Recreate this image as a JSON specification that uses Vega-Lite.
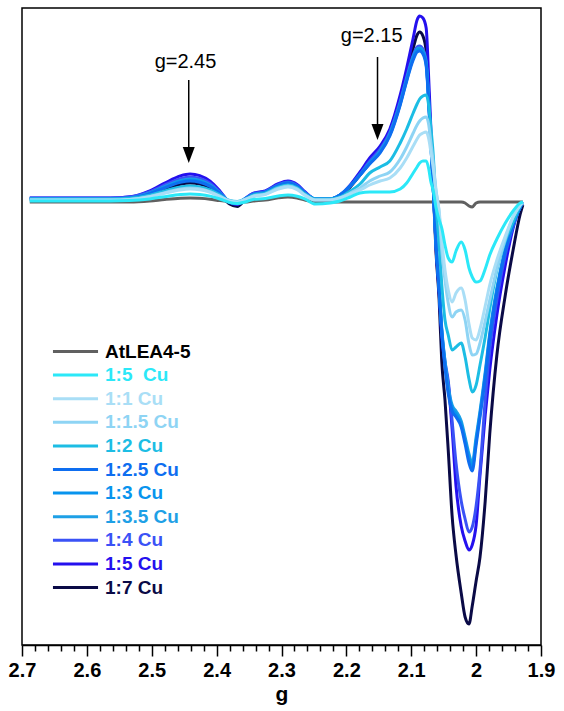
{
  "$schema": "https://vega.github.io/schema/vega-lite/v6.json",
  "autosize": {"type": "none"},
  "padding": {"left": 22, "top": 8, "right": 23, "bottom": 66},
  "width": 519,
  "height": 637,
  "background": "white",
  "config": {
    "view": {"stroke": "black", "strokeWidth": 1.5},
    "font": "Liberation Sans"
  },
  "resolve": {"axis": {"x": "independent"}},
  "layer": [
    {
      "data": {
        "values": [
          {"g": 2.688, "A": -1, "c5": 0, "r1": 1, "r15": 1, "r2": 2, "r25": 2, "r3": 2, "r35": 2, "r4": 3, "r5": 3, "r7": 2},
          {"g": 2.626, "A": -1, "c5": 0, "r1": 1, "r15": 1, "r2": 2, "r25": 2, "r3": 2, "r35": 2, "r4": 3, "r5": 3, "r7": 2},
          {"g": 2.564, "A": -1, "c5": 0, "r1": 1, "r15": 1, "r2": 2, "r25": 2, "r3": 2, "r35": 2, "r4": 3, "r5": 3, "r7": 2},
          {"g": 2.534, "A": -1, "c5": 0.4, "r1": 1.6, "r15": 1.6, "r2": 2.7, "r25": 2.9, "r3": 3, "r35": 3, "r4": 4, "r5": 4.2, "r7": 2.8},
          {"g": 2.503, "A": 0, "c5": 2.1, "r1": 4.3, "r15": 4.6, "r2": 5.9, "r25": 7.4, "r3": 7.7, "r35": 8, "r4": 9.3, "r5": 10.2, "r7": 6.8},
          {"g": 2.48, "A": 1.5, "c5": 4.3, "r1": 7.8, "r15": 8.4, "r2": 10.1, "r25": 13.2, "r3": 13.8, "r35": 14.4, "r4": 16, "r5": 17.9, "r7": 11.9},
          {"g": 2.456, "A": 2.7, "c5": 6.4, "r1": 11.1, "r15": 12, "r2": 14, "r25": 18.6, "r3": 19.5, "r35": 20.4, "r4": 22.3, "r5": 25.1, "r7": 16.7},
          {"g": 2.441, "A": 3, "c5": 7, "r1": 12, "r15": 13, "r2": 15, "r25": 20, "r3": 21, "r35": 22, "r4": 24, "r5": 27, "r7": 18},
          {"g": 2.426, "A": 2.7, "c5": 6.5, "r1": 11.2, "r15": 12.2, "r2": 14.1, "r25": 18.7, "r3": 19.7, "r35": 20.6, "r4": 22.5, "r5": 25.3, "r7": 16.9},
          {"g": 2.41, "A": 1.8, "c5": 4.9, "r1": 8.7, "r15": 9.4, "r2": 11.1, "r25": 14.6, "r3": 15.3, "r35": 16, "r4": 17.7, "r5": 19.8, "r7": 13.2},
          {"g": 2.395, "A": 0.4, "c5": 2, "r1": 4.5, "r15": 4.8, "r2": 6, "r25": 7.5, "r3": 7.8, "r35": 8, "r4": 9, "r5": 10, "r7": 6.5},
          {"g": 2.38, "A": -0.5, "c5": -1.5, "r1": 0, "r15": 0, "r2": 0.5, "r25": -1, "r3": -1, "r35": -1, "r4": -1, "r5": -1.5, "r7": -3},
          {"g": 2.368, "A": -1, "c5": -2.5, "r1": -1, "r15": -1, "r2": -0.5, "r25": -2.5, "r3": -2.5, "r35": -2.5, "r4": -3, "r5": -3.5, "r7": -5.5},
          {"g": 2.356, "A": -1, "c5": -1, "r1": 1.5, "r15": 1.5, "r2": 2, "r25": 2, "r3": 2, "r35": 2, "r4": 2.5, "r5": 2.5, "r7": 1},
          {"g": 2.344, "A": 0, "c5": 1.6, "r1": 4.5, "r15": 4.8, "r2": 5.8, "r25": 6.3, "r3": 6.3, "r35": 6.3, "r4": 7.3, "r5": 7.6, "r7": 6},
          {"g": 2.325, "A": 1, "c5": 2.5, "r1": 6.5, "r15": 6.9, "r2": 7.9, "r25": 8.7, "r3": 8.7, "r35": 8.7, "r4": 9.7, "r5": 10.1, "r7": 8.3},
          {"g": 2.305, "A": 3.2, "c5": 5, "r1": 11.9, "r15": 12.8, "r2": 13.8, "r25": 15.4, "r3": 15.4, "r35": 15.4, "r4": 16.4, "r5": 17.3, "r7": 14.6},
          {"g": 2.29, "A": 4, "c5": 6, "r1": 14, "r15": 15, "r2": 16, "r25": 18, "r3": 18, "r35": 18, "r4": 19, "r5": 20, "r7": 17},
          {"g": 2.276, "A": 3, "c5": 4.8, "r1": 11.4, "r15": 12.2, "r2": 13.2, "r25": 14.8, "r3": 14.8, "r35": 14.8, "r4": 15.8, "r5": 16.6, "r7": 14},
          {"g": 2.264, "A": 0.9, "c5": 2.2, "r1": 5.8, "r15": 6.2, "r2": 7.2, "r25": 7.9, "r3": 7.9, "r35": 7.9, "r4": 8.9, "r5": 9.3, "r7": 7.6},
          {"g": 2.248, "A": -1, "c5": -3, "r1": 1, "r15": 1, "r2": 2, "r25": 2, "r3": 2, "r35": 2, "r4": 2, "r5": 2, "r7": 1},
          {"g": 2.225, "A": -1, "c5": -2, "r1": 1, "r15": 1, "r2": 2, "r25": 2, "r3": 2, "r35": 2, "r4": 2, "r5": 2, "r7": 1},
          {"g": 2.21, "A": -1, "c5": 0, "r1": 3, "r15": 3, "r2": 4, "r25": 6, "r3": 6, "r35": 6, "r4": 6, "r5": 6, "r7": 5},
          {"g": 2.194, "A": -1, "c5": 4, "r1": 7, "r15": 8, "r2": 10, "r25": 15, "r3": 15, "r35": 15, "r4": 15, "r5": 16, "r7": 14},
          {"g": 2.179, "A": -1, "c5": 8, "r1": 11, "r15": 13, "r2": 17, "r25": 26, "r3": 26, "r35": 26, "r4": 27, "r5": 29, "r7": 26},
          {"g": 2.164, "A": -1, "c5": 9, "r1": 16, "r15": 20, "r2": 28, "r25": 37, "r3": 38, "r35": 38, "r4": 40, "r5": 43, "r7": 38},
          {"g": 2.148, "A": -1, "c5": 9, "r1": 20, "r15": 25, "r2": 34, "r25": 48, "r3": 49, "r35": 50, "r4": 52, "r5": 55, "r7": 50},
          {"g": 2.133, "A": -1, "c5": 9, "r1": 23, "r15": 29, "r2": 40, "r25": 65, "r3": 66, "r35": 67, "r4": 69, "r5": 72, "r7": 67},
          {"g": 2.117, "A": -1, "c5": 12, "r1": 33, "r15": 42, "r2": 58, "r25": 96, "r3": 97, "r35": 98, "r4": 100, "r5": 106, "r7": 102},
          {"g": 2.107, "A": -1, "c5": 18, "r1": 43, "r15": 54, "r2": 72, "r25": 120, "r3": 121, "r35": 122, "r4": 124, "r5": 133, "r7": 128},
          {"g": 2.097, "A": -1, "c5": 28, "r1": 55, "r15": 68, "r2": 88, "r25": 141, "r3": 143, "r35": 144, "r4": 146, "r5": 163, "r7": 153},
          {"g": 2.091, "A": -1, "c5": 34, "r1": 62, "r15": 76, "r2": 97, "r25": 149, "r3": 151, "r35": 152, "r4": 154, "r5": 181, "r7": 166},
          {"g": 2.087, "A": -1, "c5": 38, "r1": 66, "r15": 80, "r2": 102, "r25": 150, "r3": 152, "r35": 153, "r4": 155, "r5": 185, "r7": 169},
          {"g": 2.082, "A": -1, "c5": 40, "r1": 68, "r15": 83, "r2": 105, "r25": 147, "r3": 149, "r35": 150, "r4": 152, "r5": 183, "r7": 165},
          {"g": 2.077, "A": -1, "c5": 40, "r1": 69, "r15": 84, "r2": 106, "r25": 135, "r3": 137, "r35": 138, "r4": 140, "r5": 173, "r7": 150},
          {"g": 2.073, "A": -1, "c5": 32, "r1": 62, "r15": 76, "r2": 95, "r25": 96, "r3": 98, "r35": 99, "r4": 100, "r5": 121, "r7": 105},
          {"g": 2.07, "A": -1, "c5": 20, "r1": 50, "r15": 60, "r2": 75, "r25": 59, "r3": 60, "r35": 61, "r4": 62, "r5": 76, "r7": 65},
          {"g": 2.066, "A": -1, "c5": 10, "r1": 32, "r15": 38, "r2": 45, "r25": 11, "r3": 11, "r35": 11, "r4": 12, "r5": 17, "r7": 12},
          {"g": 2.062, "A": -1, "c5": -6, "r1": 10, "r15": 12, "r2": -2, "r25": -41, "r3": -41, "r35": -41, "r4": -41, "r5": -44, "r7": -49},
          {"g": 2.057, "A": -1, "c5": -19, "r1": -10, "r15": -12, "r2": -44, "r25": -88, "r3": -87, "r35": -86, "r4": -87, "r5": -92, "r7": -99},
          {"g": 2.053, "A": -1, "c5": -27, "r1": -39, "r15": -49, "r2": -83, "r25": -131, "r3": -129, "r35": -127, "r4": -130, "r5": -135, "r7": -160},
          {"g": 2.048, "A": -1, "c5": -44, "r1": -69, "r15": -79, "r2": -119, "r25": -166, "r3": -163, "r35": -160, "r4": -160, "r5": -163, "r7": -199},
          {"g": 2.043, "A": -1, "c5": -57, "r1": -89, "r15": -102, "r2": -134, "r25": -193, "r3": -189, "r35": -186, "r4": -180, "r5": -183, "r7": -249},
          {"g": 2.037, "A": -1, "c5": -61, "r1": -101, "r15": -116, "r2": -149, "r25": -210, "r3": -207, "r35": -204, "r4": -220, "r5": -228, "r7": -315},
          {"g": 2.031, "A": -1, "c5": -50, "r1": -92, "r15": -111, "r2": -146, "r25": -216, "r3": -213, "r35": -210, "r4": -262, "r5": -285, "r7": -354},
          {"g": 2.023, "A": -1, "c5": -41, "r1": -87, "r15": -109, "r2": -142, "r25": -226, "r3": -223, "r35": -220, "r4": -300, "r5": -325, "r7": -392},
          {"g": 2.017, "A": -2, "c5": -49, "r1": -99, "r15": -119, "r2": -156, "r25": -243, "r3": -239, "r35": -236, "r4": -318, "r5": -340, "r7": -416},
          {"g": 2.011, "A": -5, "c5": -67, "r1": -123, "r15": -143, "r2": -178, "r25": -262, "r3": -257, "r35": -253, "r4": -331, "r5": -349, "r7": -423},
          {"g": 2.006, "A": -6, "c5": -76, "r1": -137, "r15": -154, "r2": -191, "r25": -270, "r3": -266, "r35": -262, "r4": -326, "r5": -344, "r7": -405},
          {"g": 2.0, "A": -2, "c5": -81, "r1": -139, "r15": -153, "r2": -184, "r25": -244, "r3": -240, "r35": -236, "r4": -305, "r5": -324, "r7": -380},
          {"g": 1.994, "A": -1, "c5": -80, "r1": -128, "r15": -142, "r2": -164, "r25": -216, "r3": -213, "r35": -210, "r4": -269, "r5": -274, "r7": -356},
          {"g": 1.986, "A": -1, "c5": -68, "r1": -105, "r15": -120, "r2": -136, "r25": -177, "r3": -174, "r35": -171, "r4": -199, "r5": -214, "r7": -300},
          {"g": 1.979, "A": -1, "c5": -54, "r1": -84, "r15": -99, "r2": -108, "r25": -137, "r3": -135, "r35": -132, "r4": -149, "r5": -169, "r7": -233},
          {"g": 1.968, "A": -1, "c5": -38, "r1": -59, "r15": -68, "r2": -69, "r25": -91, "r3": -89, "r35": -87, "r4": -99, "r5": -114, "r7": -154},
          {"g": 1.955, "A": -1, "c5": -22, "r1": -35, "r15": -38, "r2": -40, "r25": -50, "r3": -49, "r35": -48, "r4": -54, "r5": -64, "r7": -94},
          {"g": 1.943, "A": -1, "c5": -10, "r1": -16, "r15": -16, "r2": -21, "r25": -24, "r3": -24, "r35": -23, "r4": -25, "r5": -27, "r7": -49},
          {"g": 1.932, "A": -1, "c5": -2, "r1": -4, "r15": -4, "r2": -5, "r25": -6, "r3": -6, "r35": -6, "r4": -6, "r5": -6, "r7": -13},
          {"g": 1.928, "A": -1, "c5": -1, "r1": -1, "r15": -1, "r2": -1, "r25": -1, "r3": -1, "r35": -1, "r4": -1, "r5": -1, "r7": -4}
        ]
      },
      "transform": [
        {"fold": ["A", "r7", "r5", "r4", "r35", "r3", "r25", "r2", "r15", "r1", "c5"], "as": ["k", "v"]},
        {
          "lookup": "k",
          "from": {
            "data": {
              "values": [
                {"k": "A", "name": "AtLEA4-5"},
                {"k": "c5", "name": "1:5\u00a0 Cu"},
                {"k": "r1", "name": "1:1 Cu"},
                {"k": "r15", "name": "1:1.5 Cu"},
                {"k": "r2", "name": "1:2 Cu"},
                {"k": "r25", "name": "1:2.5 Cu"},
                {"k": "r3", "name": "1:3 Cu"},
                {"k": "r35", "name": "1:3.5 Cu"},
                {"k": "r4", "name": "1:4 Cu"},
                {"k": "r5", "name": "1:5 Cu"},
                {"k": "r7", "name": "1:7 Cu"}
              ]
            },
            "key": "k",
            "fields": ["name"]
          }
        }
      ],
      "mark": {"type": "line", "strokeWidth": 3, "interpolate": "monotone"},
      "encoding": {
        "x": {
          "field": "g",
          "type": "quantitative",
          "scale": {"domain": [1.9, 2.7], "reverse": true, "nice": false, "zero": false},
          "axis": {
            "orient": "bottom",
            "values": [2.7, 2.6, 2.5, 2.4, 2.3, 2.2, 2.1, 2.0, 1.9],
            "format": "~g",
            "tickSize": 11,
            "tickWidth": 1.5,
            "tickColor": "black",
            "domainColor": "black",
            "domainWidth": 1.5,
            "labelFont": "Liberation Sans",
            "labelFontSize": 20,
            "labelFontWeight": "bold",
            "labelColor": "black",
            "labelPadding": 4,
            "labelFlush": false,
            "labelOverlap": false,
            "grid": false,
            "title": "g",
            "titleFont": "Liberation Sans",
            "titleFontSize": 21,
            "titleFontWeight": "bold",
            "titleColor": "black",
            "titlePadding": 3
          }
        },
        "y": {
          "field": "v",
          "type": "quantitative",
          "scale": {"domain": [-444, 193], "nice": false, "zero": false},
          "axis": null
        },
        "color": {
          "field": "name",
          "type": "nominal",
          "scale": {
            "domain": ["AtLEA4-5", "1:5\u00a0 Cu", "1:1 Cu", "1:1.5 Cu", "1:2 Cu", "1:2.5 Cu", "1:3 Cu", "1:3.5 Cu", "1:4 Cu", "1:5 Cu", "1:7 Cu"],
            "range": ["#606060", "#2be8f8", "#a9def6", "#8ed4f4", "#1cbde4", "#0e6ef0", "#0794ee", "#1ea0e6", "#3a52f6", "#2410ee", "#0a0a46"]
          },
          "legend": {
            "orient": "none",
            "legendX": 44,
            "legendY": 334,
            "title": null,
            "padding": 0,
            "symbolType": "M-4,0H4",
            "symbolSize": 127,
            "symbolStrokeWidth": 3,
            "labelFont": "Liberation Sans",
            "labelFontSize": 19,
            "labelFontWeight": "bold",
            "labelOffset": 20,
            "labelLimit": 300,
            "rowPadding": 3.6,
            "encode": {
              "labels": {
                "update": {
                  "fill": [
                    {"test": "datum.value === 'AtLEA4-5'", "value": "black"},
                    {"scale": "color", "field": "value"}
                  ]
                }
              }
            }
          }
        }
      }
    },
    {
      "data": {
        "values": [
          {"g": 2.443, "top": 121, "bot": 50},
          {"g": 2.152, "top": 144, "bot": 74}
        ]
      },
      "mark": {"type": "rule", "strokeWidth": 1.5, "color": "black"},
      "encoding": {
        "x": {
          "field": "g",
          "type": "quantitative",
          "scale": {"domain": [1.9, 2.7], "reverse": true, "nice": false, "zero": false},
          "axis": {
            "orient": "bottom",
            "values": [2.68, 2.66, 2.64, 2.62, 2.58, 2.56, 2.54, 2.52, 2.48, 2.46, 2.44, 2.42, 2.38, 2.36, 2.34, 2.32, 2.28, 2.26, 2.24, 2.22, 2.18, 2.16, 2.14, 2.12, 2.08, 2.06, 2.04, 2.02, 1.98, 1.96, 1.94, 1.92],
            "labels": false,
            "domain": false,
            "grid": false,
            "tickSize": 6,
            "tickWidth": 1.5,
            "tickColor": "black",
            "title": null
          }
        },
        "y": {"field": "top", "type": "quantitative", "scale": {"domain": [-444, 193], "nice": false, "zero": false}, "axis": null},
        "y2": {"field": "bot"}
      }
    },
    {
      "data": {
        "values": [
          {"g": 2.443, "head": 46},
          {"g": 2.152, "head": 69}
        ]
      },
      "mark": {"type": "point", "shape": "M-0.75,-1L0.75,-1L0,1Z", "size": 256, "filled": true, "color": "black", "opacity": 1},
      "encoding": {
        "x": {"field": "g", "type": "quantitative", "scale": {"domain": [1.9, 2.7], "reverse": true, "nice": false, "zero": false}, "axis": null},
        "y": {"field": "head", "type": "quantitative", "scale": {"domain": [-444, 193], "nice": false, "zero": false}, "axis": null}
      }
    },
    {
      "data": {
        "values": [
          {"tx": 2.448, "ty": 133, "label": "g=2.45"},
          {"tx": 2.161, "ty": 159, "label": "g=2.15"}
        ]
      },
      "mark": {"type": "text", "font": "Liberation Sans", "fontSize": 20, "align": "center", "baseline": "alphabetic", "color": "black"},
      "encoding": {
        "x": {"field": "tx", "type": "quantitative", "scale": {"domain": [1.9, 2.7], "reverse": true, "nice": false, "zero": false}, "axis": null},
        "y": {"field": "ty", "type": "quantitative", "scale": {"domain": [-444, 193], "nice": false, "zero": false}, "axis": null},
        "text": {"field": "label"}
      }
    }
  ]
}
